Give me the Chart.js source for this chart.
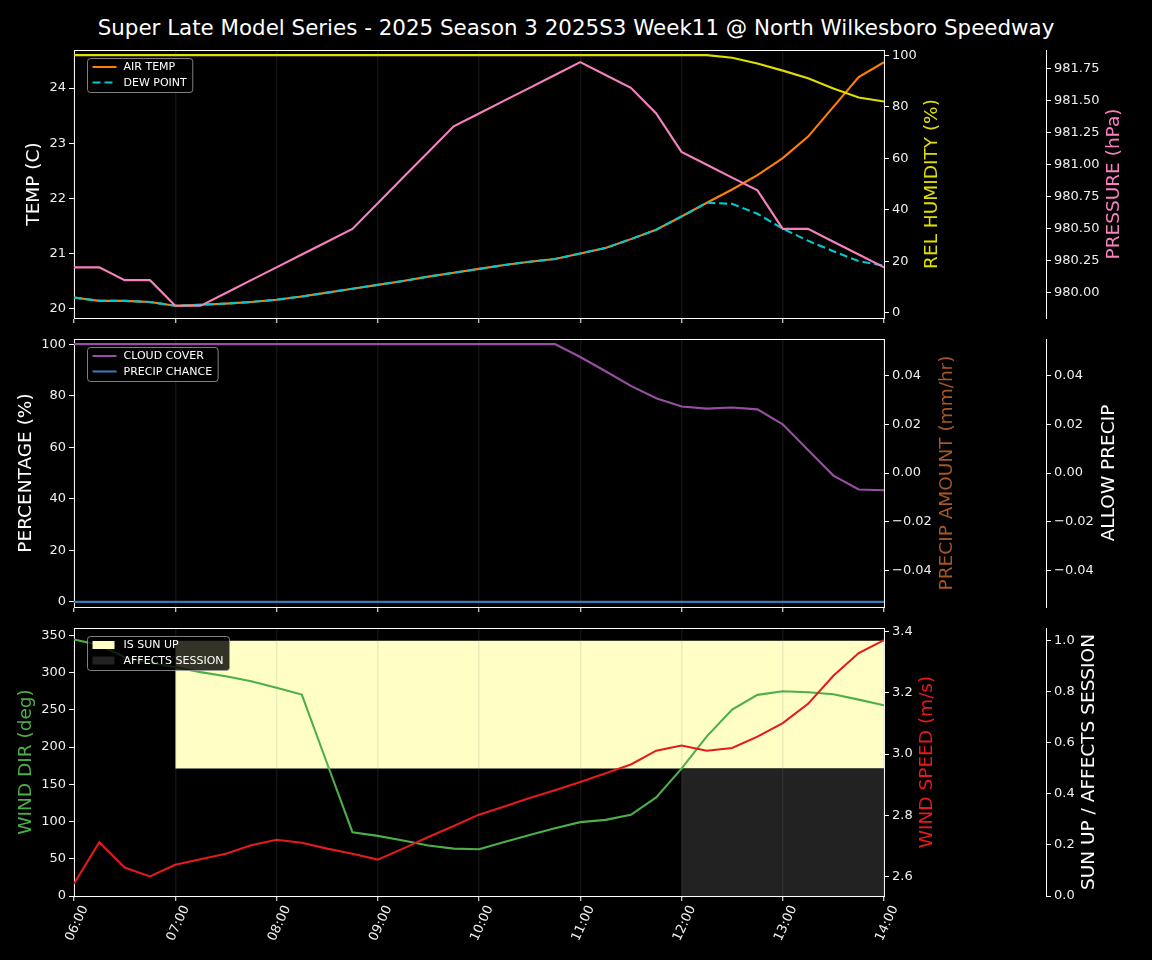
<!DOCTYPE html>
<html>
<head>
<meta charset="utf-8">
<script src="https://cdn.jsdelivr.net/npm/chart.js@4.4.1/dist/chart.umd.min.js"></script>
<style>
html,body{margin:0;padding:0;background:#000;width:1152px;height:960px;overflow:hidden;}
#title{position:absolute;left:0;top:14px;width:1152px;text-align:center;color:#fff;font:21.4px 'DejaVu Sans';line-height:28px;white-space:nowrap;}
canvas{position:absolute;left:0;}
</style>
</head>
<body>
<div id="title">Super Late Model Series - 2025 Season 3 2025S3 Week11 @ North Wilkesboro Speedway</div>
<canvas id="c1" width="1152" height="290" style="top:38px"></canvas>
<canvas id="c2" width="1152" height="290" style="top:327px"></canvas>
<canvas id="c3" width="1152" height="344" style="top:616px"></canvas>
<script>
// ---------- DATA ----------
const TIMES = ['06:00','06:15','06:30','06:45','07:00','07:15','07:30','07:45','08:00','08:15','08:30','08:45',
  '09:00','09:15','09:30','09:45','10:00','10:15','10:30','10:45','11:00','11:15','11:30','11:45',
  '12:00','12:15','12:30','12:45','13:00','13:15','13:30','13:45','14:00'];
const HOUR_TICKS = [6,7,8,9,10,11,12,13,14];
const HOUR_LABELS = ['06:00','07:00','08:00','09:00','10:00','11:00','12:00','13:00','14:00'];

const AIR_TEMP = [20.20,20.14,20.14,20.12,20.05,20.07,20.09,20.12,20.16,20.22,20.29,20.36,20.43,20.50,20.58,20.65,
  20.72,20.79,20.85,20.90,21.00,21.10,21.26,21.43,21.67,21.92,22.16,22.42,22.73,23.12,23.66,24.20,24.47];
const DEW_POINT = [20.20,20.14,20.14,20.12,20.05,20.07,20.09,20.12,20.16,20.22,20.29,20.36,20.43,20.50,20.58,20.65,
  20.72,20.79,20.85,20.90,21.00,21.10,21.26,21.43,21.67,21.92,21.90,21.72,21.45,21.23,21.04,20.86,20.78];
const REL_HUMIDITY = [100,100,100,100,100,100,100,100,100,100,100,100,100,100,100,100,100,100,100,100,100,100,100,100,
  100,100,99.0,96.8,94.0,91.0,87.1,83.6,82.0];
const PRESSURE = [980.2,980.2,980.1,980.1,979.9,979.9,980.0,980.1,980.2,980.3,980.4,980.5,980.7,980.9,981.1,981.3,
  981.4,981.5,981.6,981.7,981.8,981.7,981.6,981.4,981.1,981.0,980.9,980.8,980.5,980.5,980.4,980.3,980.2];

const CLOUD_COVER = [100,100,100,100,100,100,100,100,100,100,100,100,100,100,100,100,100,100,100,100,
  95.0,89.5,83.8,79.0,75.8,75.0,75.4,74.7,68.9,58.9,49.0,43.6,43.3];
const PRECIP_CHANCE = [0,0,0,0,0,0,0,0,0,0,0,0,0,0,0,0,0,0,0,0,0,0,0,0,0,0,0,0,0,0,0,0,0];
const PRECIP_AMOUNT = [0,0,0,0,0,0,0,0,0,0,0,0,0,0,0,0,0,0,0,0,0,0,0,0,0,0,0,0,0,0,0,0,0];
const ALLOW_PRECIP = [0,0,0,0,0,0,0,0,0,0,0,0,0,0,0,0,0,0,0,0,0,0,0,0,0,0,0,0,0,0,0,0,0];

const WIND_DIR = [344.6,337.0,320.8,313.2,307.4,300.7,295.3,288.5,279.6,270.6,178.0,85.7,80.8,74.5,67.8,63.7,62.8,
  72.5,82.0,91.0,99.2,102.3,109.0,132.4,171.0,214.5,250.4,270.2,275.0,273.7,271.0,263.8,256.2];
const WIND_SPEED = [2.576,2.712,2.629,2.600,2.638,2.656,2.674,2.702,2.720,2.710,2.691,2.674,2.655,2.691,2.729,2.765,2.802,
  2.829,2.856,2.882,2.909,2.937,2.966,3.011,3.028,3.011,3.020,3.057,3.101,3.164,3.256,3.330,3.372];
const SUN_UP = [0,0,0,0,1,1,1,1,1,1,1,1,1,1,1,1,1,1,1,1,1,1,1,1,1,1,1,1,1,1,1,1,1];
const AFFECTS_SESSION = [0,0,0,0,0,0,0,0,0,0,0,0,0,0,0,0,0,0,0,0,0,0,0,0,1,1,1,1,1,1,1,1,1];

const TEMP_TICKS = [20,21,22,23,24];
const TEMP_LABELS = ['20','21','22','23','24'];
const PCT_TICKS = [0,20,40,60,80,100];
const PCT_LABELS = ['0','20','40','60','80','100'];
const PRESSURE_TICKS = [980.00,980.25,980.50,980.75,981.00,981.25,981.50,981.75];
const PRESSURE_LABELS = ['980.00','980.25','980.50','980.75','981.00','981.25','981.50','981.75'];
const PRECIP_TICKS = [-0.04,-0.02,0,0.02,0.04];
const PRECIP_LABELS = ['\u22120.04','\u22120.02','0.00','0.02','0.04'];
const DIR_TICKS = [0,50,100,150,200,250,300,350];
const DIR_LABELS = ['0','50','100','150','200','250','300','350'];
const SPEED_TICKS = [2.6,2.8,3.0,3.2,3.4];
const SPEED_LABELS = ['2.6','2.8','3.0','3.2','3.4'];
const SUN_TICKS = [0,0.2,0.4,0.6,0.8,1.0];
const SUN_LABELS = ['0.0','0.2','0.4','0.6','0.8','1.0'];

// ---------- HELPERS ----------
const FONT = "'DejaVu Sans'";
Chart.defaults.font.family = FONT;
const hours = TIMES.map(t => { const [h, m] = t.split(':').map(Number); return h + m / 60; });
const pts = arr => arr.map((v, i) => ({x: hours[i], y: v}));
const pad5 = arr => { const lo = Math.min(...arr), hi = Math.max(...arr), d = (hi - lo) * 0.05; return [lo - d, hi + d]; };

function yScale(pos, range, ticks, labels, width) {
  return {
    type: 'linear', position: pos, min: range[0], max: range[1],
    afterBuildTicks: s => { s.ticks = ticks.map(v => ({value: v})); },
    afterFit: s => { s.width = width; s.paddingTop = 0; s.paddingBottom = 0; },
    ticks: {color: '#eeeeee', font: {family: FONT, size: 13}, padding: 3, autoSkip: false,
      callback: (v, i) => labels[i]},
    grid: {drawOnChartArea: false, drawTicks: true, tickLength: 5, tickColor: '#ffffff', tickWidth: 1},
    border: {display: true, color: '#ffffff', width: 1}
  };
}
function xScale(showLabels, height) {
  return {
    type: 'linear', position: 'bottom', min: 6, max: 14, offset: false,
    afterBuildTicks: s => { s.ticks = HOUR_TICKS.map(v => ({value: v})); },
    afterFit: s => { s.height = height; s.paddingLeft = 0; s.paddingRight = 0; },
    ticks: {display: showLabels, color: '#eeeeee', font: {family: FONT, size: 13}, minRotation: 65, maxRotation: 65,
      autoSkip: false, padding: 2, labelOffset: 11, callback: (v, i) => HOUR_LABELS[i]},
    grid: {color: 'rgba(128,128,128,0.15)', lineWidth: 1.5, drawTicks: true, tickLength: 5,
      tickColor: '#ffffff', tickWidth: 1, offset: false, z: 1},
    border: {display: true, color: '#ffffff', width: 1, z: 1}
  };
}
function line(label, data, color, yAxisID, extra) {
  return Object.assign({type: 'line', label, data: pts(data), borderColor: color, backgroundColor: color,
    borderWidth: 2.1, pointRadius: 0, tension: 0, fill: false, yAxisID, inLegend: false}, extra || {});
}

const frameTop = {
  id: 'frameTop',
  afterDraw(chart) {
    const a = chart.chartArea, ctx = chart.ctx;
    ctx.save(); ctx.strokeStyle = '#ffffff'; ctx.lineWidth = 1;
    ctx.beginPath(); ctx.moveTo(a.left, a.top + 0.5); ctx.lineTo(a.right, a.top + 0.5); ctx.stroke();
    ctx.restore();
  }
};
const axisTitles = {
  id: 'axisTitles',
  afterDraw(chart, args, opts) {
    const ctx = chart.ctx, a = chart.chartArea;
    (opts.items || []).forEach(it => {
      const s = chart.scales[it.scale];
      ctx.save();
      ctx.font = '13px ' + FONT;
      const maxW = Math.max(...s.ticks.map(t => ctx.measureText(String(t.label)).width));
      const off = 5 + 3 + maxW + 5.5 + 9.5;
      const x = s.options.position === 'left' ? s.right - off : s.left + off;
      ctx.translate(x, (a.top + a.bottom) / 2);
      ctx.rotate(-Math.PI / 2);
      ctx.font = '18.5px ' + FONT;
      ctx.fillStyle = it.color; ctx.textAlign = 'center'; ctx.textBaseline = 'middle';
      ctx.fillText(it.text, 0, 0);
      ctx.restore();
    });
  }
};
const insideLegend = {
  id: 'insideLegend',
  afterDraw(chart) {
    const ctx = chart.ctx, a = chart.chartArea;
    const items = chart.data.datasets.filter(d => d.inLegend);
    if (!items.length) return;
    ctx.save();
    ctx.font = '11px ' + FONT;
    const tw = Math.max(...items.map(d => ctx.measureText(d.label).width));
    const x0 = a.left + 13.5, y0 = a.top + 8.5, rowH = 15.5;
    const w = 36 + tw + 6, h = items.length * rowH + 3;
    ctx.beginPath();
    ctx.roundRect(x0, y0, w, h, 3);
    ctx.fillStyle = 'rgba(0,0,0,0.8)'; ctx.fill();
    ctx.strokeStyle = 'rgba(160,160,160,0.8)'; ctx.lineWidth = 1; ctx.stroke();
    items.forEach((d, i) => {
      const cy = y0 + 8.5 + i * rowH;
      if (d.legendBox) {
        ctx.fillStyle = d.backgroundColor;
        ctx.fillRect(x0 + 5, cy - 4, 22, 8);
      } else {
        ctx.strokeStyle = d.borderColor; ctx.lineWidth = 2;
        ctx.setLineDash(d.borderDash || []);
        ctx.beginPath(); ctx.moveTo(x0 + 5, cy); ctx.lineTo(x0 + 29, cy); ctx.stroke();
        ctx.setLineDash([]);
      }
      ctx.fillStyle = '#ffffff'; ctx.textAlign = 'left'; ctx.textBaseline = 'middle';
      ctx.fillText(d.label, x0 + 36, cy + 0.5);
    });
    ctx.restore();
  }
};

const baseOptions = (scales, titles) => ({
  responsive: false, animation: false, devicePixelRatio: 1,
  layout: {padding: {top: 12, left: 0, right: 0, bottom: 0}},
  scales,
  plugins: {legend: {display: false}, tooltip: {enabled: false}, title: {display: false},
    axisTitles: {items: titles}}
});
const PLUGINS = [frameTop, axisTitles, insideLegend];

// ---------- CHART 1 ----------
const ds1 = [
  line('AIR TEMP', AIR_TEMP, '#ff7f00', 'yTemp', {inLegend: true, order: 4}),
  line('DEW POINT', DEW_POINT, '#00c8cc', 'yTemp', {inLegend: true, borderDash: [8, 4], order: 3}),
  line('REL HUMIDITY', REL_HUMIDITY, '#dede00', 'yRH', {order: 2}),
  line('PRESSURE', PRESSURE, '#f781bf', 'yPres', {order: 1})
];
new Chart(document.getElementById('c1'), {
  type: 'line',
  data: {datasets: ds1},
  options: baseOptions({
    x: xScale(false, 10),
    yTemp: yScale('left', pad5(AIR_TEMP.concat(DEW_POINT)), TEMP_TICKS, TEMP_LABELS, 74),
    yRH: yScale('right', [-2, 102], PCT_TICKS, PCT_LABELS, 162),
    yPres: yScale('right', pad5(PRESSURE), PRESSURE_TICKS, PRESSURE_LABELS, 106)
  }, [
    {scale: 'yTemp', text: 'TEMP (C)', color: '#ffffff'},
    {scale: 'yRH', text: 'REL HUMIDITY (%)', color: '#dede00'},
    {scale: 'yPres', text: 'PRESSURE (hPa)', color: '#f781bf'}
  ]),
  plugins: PLUGINS
});

// ---------- CHART 2 ----------
const ds2 = [
  line('CLOUD COVER', CLOUD_COVER, '#984ea3', 'yPct', {inLegend: true, order: 4}),
  line('PRECIP CHANCE', PRECIP_CHANCE, '#377eb8', 'yPct', {inLegend: true, order: 3}),
  line('PRECIP AMOUNT', PRECIP_AMOUNT, '#a65628', 'yAmt', {showLine: false, borderWidth: 0, order: 2}),
  line('ALLOW PRECIP', ALLOW_PRECIP, '#ffffff', 'yAllow', {showLine: false, borderWidth: 0, order: 1})
];
new Chart(document.getElementById('c2'), {
  type: 'line',
  data: {datasets: ds2},
  options: baseOptions({
    x: xScale(false, 10),
    yPct: yScale('left', [-2, 102], PCT_TICKS, PCT_LABELS, 74),
    yAmt: yScale('right', [-0.055, 0.055], PRECIP_TICKS, PRECIP_LABELS, 162),
    yAllow: yScale('right', [-0.055, 0.055], PRECIP_TICKS, PRECIP_LABELS, 106)
  }, [
    {scale: 'yPct', text: 'PERCENTAGE (%)', color: '#ffffff'},
    {scale: 'yAmt', text: 'PRECIP AMOUNT (mm/hr)', color: '#a65628'},
    {scale: 'yAllow', text: 'ALLOW PRECIP', color: '#ffffff'}
  ]),
  plugins: PLUGINS
});

// ---------- CHART 3 ----------
const ds3 = [
  line('IS SUN UP', SUN_UP.map(v => v ? 1 : null), '#ffffc5', 'ySun',
    {inLegend: true, legendBox: true, borderWidth: 0, fill: {value: 0.5}, order: 5, spanGaps: false}),
  line('AFFECTS SESSION', AFFECTS_SESSION.map(v => v ? 0.5 : null), '#222222', 'ySun',
    {inLegend: true, legendBox: true, borderWidth: 0, fill: {value: 0}, order: 4, spanGaps: false}),
  line('WIND DIR', WIND_DIR, '#4daf4a', 'yDir', {order: 2}),
  line('WIND SPEED', WIND_SPEED, '#e41a1c', 'ySpeed', {order: 1})
];
new Chart(document.getElementById('c3'), {
  type: 'line',
  data: {datasets: ds3},
  options: baseOptions({
    x: xScale(true, 64),
    yDir: yScale('left', [0, 360], DIR_TICKS, DIR_LABELS, 74),
    ySpeed: yScale('right', pad5(WIND_SPEED), SPEED_TICKS, SPEED_LABELS, 162),
    ySun: yScale('right', [0, 1.05], SUN_TICKS, SUN_LABELS, 106)
  }, [
    {scale: 'yDir', text: 'WIND DIR (deg)', color: '#4daf4a'},
    {scale: 'ySpeed', text: 'WIND SPEED (m/s)', color: '#e41a1c'},
    {scale: 'ySun', text: 'SUN UP / AFFECTS SESSION', color: '#ffffff'}
  ]),
  plugins: PLUGINS
});
</script>
</body>
</html>
